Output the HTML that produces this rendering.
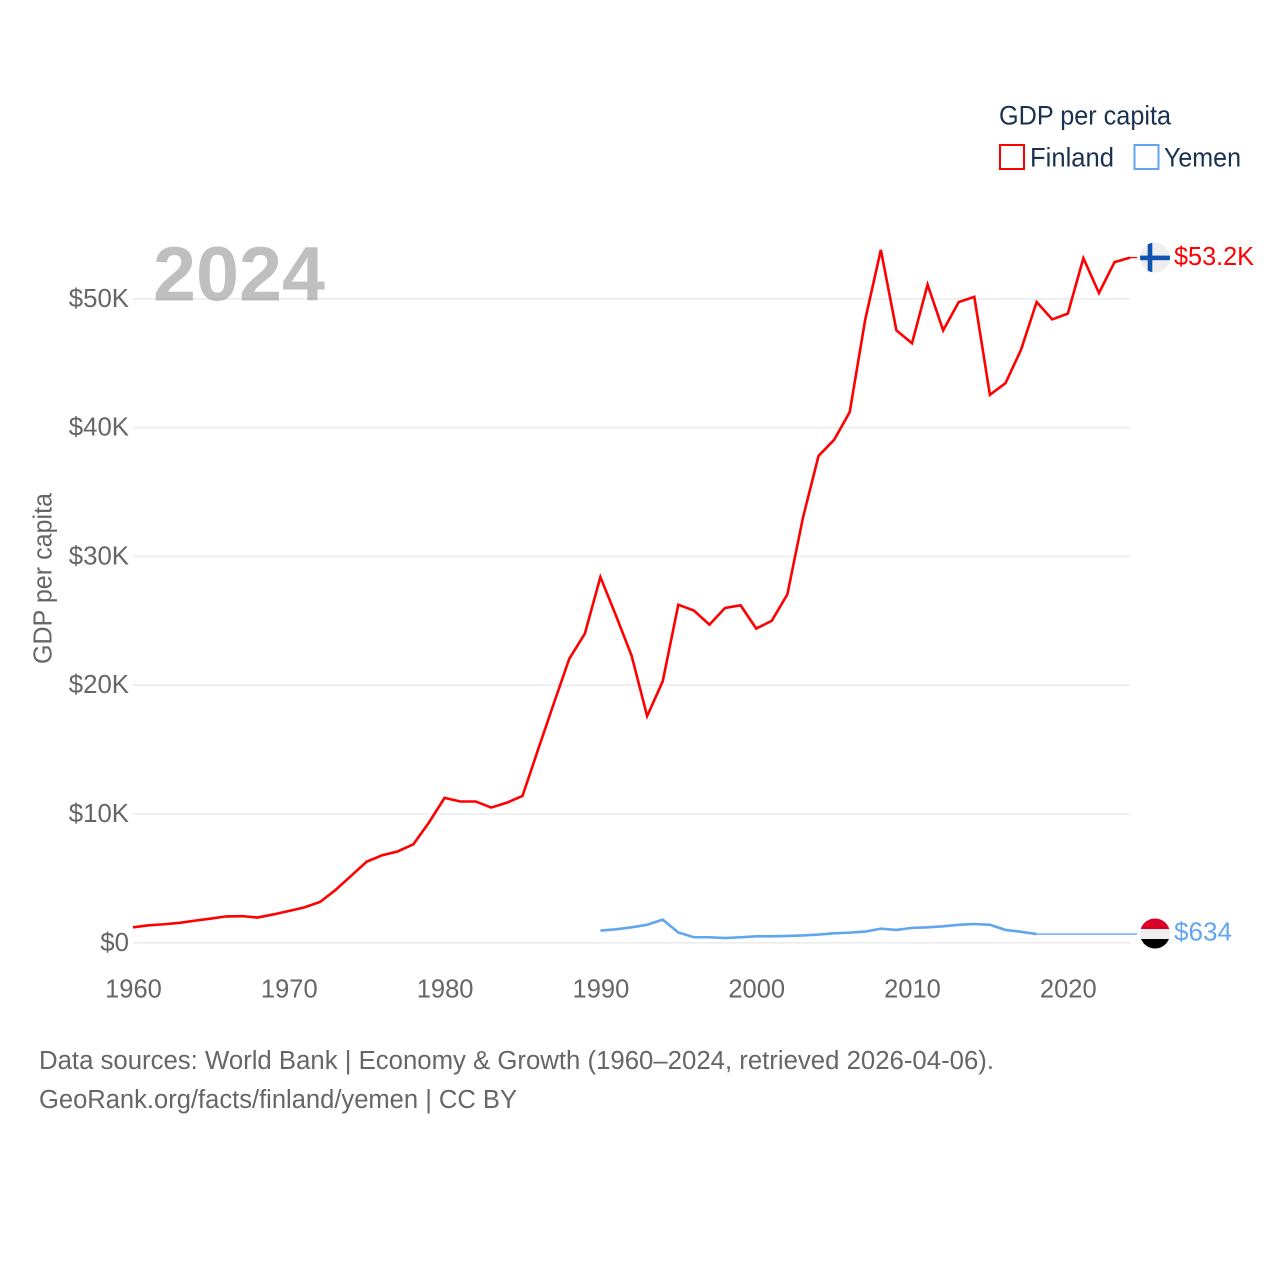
<!DOCTYPE html>
<html lang="en">
<head>
<meta charset="utf-8">
<title>GDP per capita: Finland and Yemen</title>
<style>
  html, body { margin: 0; padding: 0; background: #fff; }
  svg { display: block; font-family: "Liberation Sans", sans-serif; }
</style>
</head>
<body>
<svg id="chart" width="1280" height="1280" viewBox="0 0 1280 1280" xmlns="http://www.w3.org/2000/svg">
  <rect width="1280" height="1280" fill="#fff"/>
  <g id="grid"></g>
  <text x="153" y="300.500" font-size="77" font-weight="bold" fill="#808080" fill-opacity="0.5" textLength="172" lengthAdjust="spacingAndGlyphs">2024</text>
  <g id="yticks"></g>
  <g id="xticks"></g>
  <text transform="translate(51.500,578.500) rotate(-90)" text-anchor="middle" font-size="25.500" fill="#666" textLength="171" lengthAdjust="spacingAndGlyphs">GDP per capita</text>
  <g id="series"></g>

  <g>
    <text x="999" y="124.600" font-size="26.500" fill="#1a3150" textLength="172" lengthAdjust="spacingAndGlyphs">GDP per capita</text>
    <rect x="1000" y="145" width="24" height="24" fill="none" stroke="#ff0000" stroke-width="2"/>
    <text x="1030" y="166.700" font-size="26.500" fill="#1a3150" textLength="84" lengthAdjust="spacingAndGlyphs">Finland</text>
    <rect x="1134.500" y="145" width="24" height="24" fill="none" stroke="#60a5f0" stroke-width="2"/>
    <text x="1164" y="166.700" font-size="26.500" fill="#1a3150" textLength="77" lengthAdjust="spacingAndGlyphs">Yemen</text>
  </g>

  <defs>
    <clipPath id="clip-yemen"><circle cx="1155" cy="933.500" r="15"/></clipPath>
    <clipPath id="clip-finland"><circle cx="1155" cy="257.500" r="15"/></clipPath>
  </defs>
  <g clip-path="url(#clip-finland)">
    <rect x="1140" y="242" width="30" height="31" fill="#eeeeee"/>
    <rect x="1147.700" y="242" width="4.600" height="31" fill="#0f52b0"/>
    <rect x="1140" y="255.600" width="30" height="4.600" fill="#0f52b0"/>
  </g>
  <g clip-path="url(#clip-yemen)">
    <rect x="1140" y="918" width="30" height="11" fill="#d80027"/>
    <rect x="1140" y="929" width="30" height="10" fill="#eeeeee"/>
    <rect x="1140" y="939" width="30" height="11" fill="#000000"/>
  </g>
  <text x="1174" y="265" font-size="25.500" fill="#ff0000" textLength="80" lengthAdjust="spacingAndGlyphs">$53.2K</text>
  <text x="1174" y="940.500" font-size="25.500" fill="#60a5f0" textLength="58" lengthAdjust="spacingAndGlyphs">$634</text>

  <text x="39" y="1069" font-size="25.500" fill="#666" textLength="955" lengthAdjust="spacingAndGlyphs">Data sources: World Bank | Economy &amp; Growth (1960–2024, retrieved 2026-04-06).</text>
  <text x="39" y="1108" font-size="25.500" fill="#666" textLength="478" lengthAdjust="spacingAndGlyphs">GeoRank.org/facts/finland/yemen | CC BY</text>
</svg>
<script>
const xTickYears = [1960, 1970, 1980, 1990, 2000, 2010, 2020];
const yTickValues = [0, 10, 20, 30, 40, 50];
const yTickLabels = ["$0", "$10K", "$20K", "$30K", "$40K", "$50K"];
const finlandStartYear = 1960;
const finlandValues = [1.2, 1.36, 1.44, 1.55, 1.72, 1.88, 2.05, 2.07, 1.96, 2.2, 2.47, 2.75, 3.17, 4.1, 5.2, 6.3, 6.8, 7.1, 7.65, 9.35, 11.25, 10.97, 10.97, 10.5, 10.88, 11.4, 15.0, 18.55, 22.05, 24.0, 28.4, 25.4, 22.3, 17.6, 20.3, 26.25, 25.8, 24.7, 26.0, 26.2, 24.4, 25.0, 27.05, 33.0, 37.8, 39.05, 41.2, 48.4, 53.8, 47.55, 46.55, 51.1, 47.55, 49.75, 50.15, 42.55, 43.45, 46.05, 49.75, 48.4, 48.85, 53.15, 50.45, 52.85, 53.2];
const yemenStartYear = 1990;
const yemenValues = [0.95, 1.05, 1.2, 1.4, 1.8, 0.8, 0.43, 0.43, 0.37, 0.43, 0.5, 0.5, 0.53, 0.57, 0.64, 0.74, 0.79, 0.87, 1.1, 1.0, 1.16, 1.2, 1.28, 1.4, 1.46, 1.4, 1.0, 0.85, 0.68];
const yemenLatestValue = 0.68;
const finlandLatestValue = 53.2;

const NS = "http://www.w3.org/2000/svg";
const xScale = year => 133 + (year - 1960) * 15.58;
const yScale = value => 942.8 - value * 12.88;
const PLOT_LEFT = 133;
const PLOT_RIGHT = 1130;
const LEAD_END = 1137;

function make(tag, attrs, parent) {
  const el = document.createElementNS(NS, tag);
  for (const k in attrs) el.setAttribute(k, attrs[k]);
  parent.appendChild(el);
  return el;
}

const gridG = document.getElementById("grid");
const yG = document.getElementById("yticks");
const xG = document.getElementById("xticks");
const seriesG = document.getElementById("series");

yTickValues.forEach((v, i) => {
  const line = make("line", { x1: PLOT_LEFT, x2: PLOT_RIGHT, y1: yScale(v), y2: yScale(v), stroke: "#ececec", "stroke-width": 1.6 }, gridG);
  
  
  const label = make("text", { x: 129, y: yScale(v) + 8, "text-anchor": "end", "font-size": 25.8, fill: "#666" }, yG);
  label.textContent = yTickLabels[i];
  
  
});

xTickYears.forEach(year => {
  const label = make("text", { x: xScale(year) + 0.5, y: 997.5, "text-anchor": "middle", "font-size": 25.5, fill: "#666" }, xG);
  label.textContent = String(year);
  
  
});

function linePoints(values, startYear) {
  return values.map((v, i) => xScale(startYear + i).toFixed(2) + "," + yScale(v).toFixed(2)).join(" ");
}

const finlandLine = make("polyline", { points: linePoints(finlandValues, finlandStartYear), fill: "none", stroke: "#ff0000", "stroke-width": 2.6, "stroke-linejoin": "miter" }, seriesG);



const finlandLead = make("line", { x1: xScale(finlandStartYear + finlandValues.length - 1), x2: LEAD_END, y1: yScale(finlandLatestValue), y2: yScale(finlandLatestValue), stroke: "#ff0000", "stroke-width": 1.3 }, seriesG);



const yemenLine = make("polyline", { points: linePoints(yemenValues, yemenStartYear), fill: "none", stroke: "#60a5f0", "stroke-width": 2.6, "stroke-linejoin": "miter" }, seriesG);



const yemenLead = make("line", { x1: xScale(yemenStartYear + yemenValues.length - 1), x2: LEAD_END, y1: yScale(yemenLatestValue), y2: yScale(yemenLatestValue), stroke: "#60a5f0", "stroke-width": 1.3 }, seriesG);


</script>
</body>
</html>
